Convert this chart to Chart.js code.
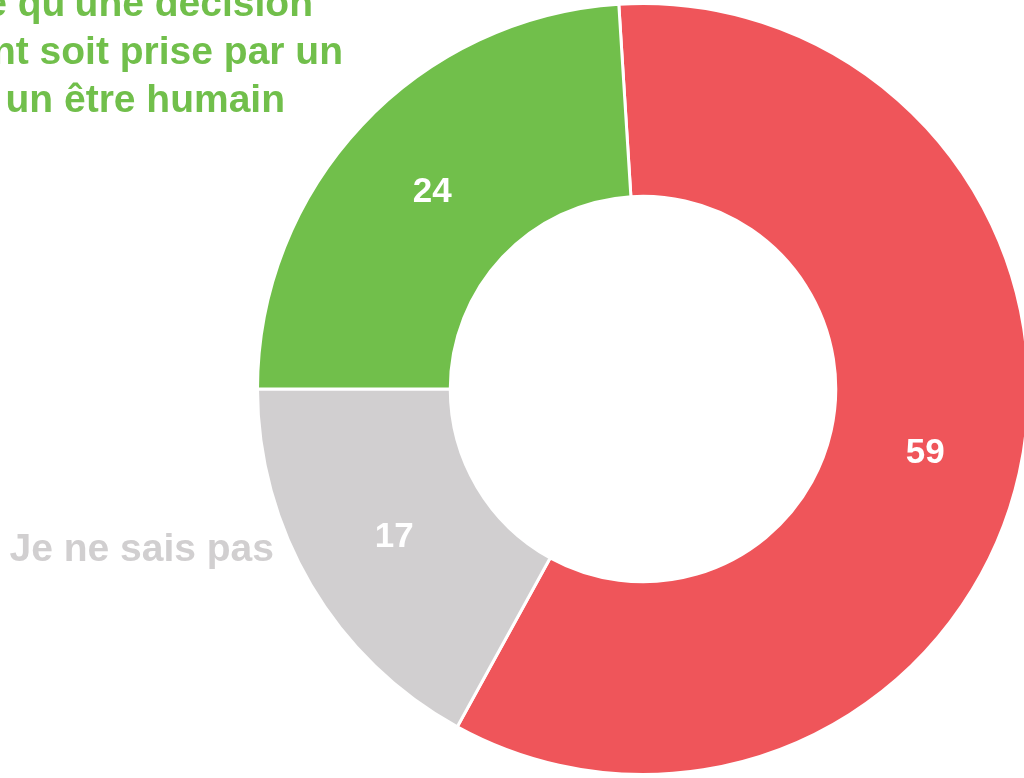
<!DOCTYPE html>
<html lang="fr">
<head>
<meta charset="utf-8">
<title>Décision : algorithme ou être humain</title>
<script src="https://cdn.jsdelivr.net/npm/chart.js@4.4.0/dist/chart.umd.min.js"></script>
<style>
  html, body { margin: 0; padding: 0; background: #fff; width: 1024px; height: 778px; overflow: hidden; }
  #wrap { position: absolute; left: 0; top: 0; width: 1286px; height: 778px; }
</style>
</head>
<body>
<div id="wrap"><canvas id="donut"></canvas></div>
<script>
// data, in drawing order (clockwise from the top)
const categories = ['Algorithme', 'Je ne sais pas', 'Être humain'];
const values = [59, 17, 24];
const sliceColors = ['#EF555A', '#D1CFD0', '#71BF4B'];

// outside labels
const greyLabel = 'Je ne sais pas';
const greenLabelLines = ["Je préfère qu'une décision", 'me concernant soit prise par un', 'un être humain'];

const FONT = '"Liberation Sans", Arial, Helvetica, sans-serif';

const sliceLabels = {
  id: 'sliceLabels',
  afterDatasetsDraw(chart) {
    const ctx = chart.ctx;
    const arcs = chart.getDatasetMeta(0).data;
    const cx = arcs[0].x, cy = arcs[0].y;
    ctx.save();

    // values inside the ring
    ctx.font = 'bold 35px ' + FONT;
    ctx.fillStyle = '#ffffff';
    ctx.textAlign = 'center';
    ctx.textBaseline = 'middle';
    arcs.forEach((arc, i) => {
      const p = arc.tooltipPosition();
      ctx.fillText(String(values[i]), p.x, p.y + 1);
    });

    // category labels outside the ring
    ctx.font = 'bold 39px ' + FONT;
    ctx.textAlign = 'right';
    ctx.textBaseline = 'alphabetic';
    ctx.fillStyle = sliceColors[1];
    ctx.fillText(greyLabel, cx - 369, cy + 172);

    ctx.fillStyle = sliceColors[2];
    const rights = [cx - 330, cx - 300, cx - 358];
    greenLabelLines.forEach((line, i) => {
      ctx.fillText(line, rights[i], cy - 373 + i * 48);
    });
    ctx.restore();
  }
};

new Chart(document.getElementById('donut'), {
  type: 'doughnut',
  data: {
    labels: categories,
    datasets: [{
      data: values,
      backgroundColor: sliceColors,
      borderColor: '#ffffff',
      borderWidth: 3,
      hoverOffset: 0
    }]
  },
  options: {
    responsive: true,
    maintainAspectRatio: false,
    animation: false,
    rotation: -3.6,
    cutout: '50%',
    layout: { padding: 2 },
    plugins: {
      legend: { display: false },
      tooltip: { enabled: false }
    }
  },
  plugins: [sliceLabels]
});
</script>
</body>
</html>
